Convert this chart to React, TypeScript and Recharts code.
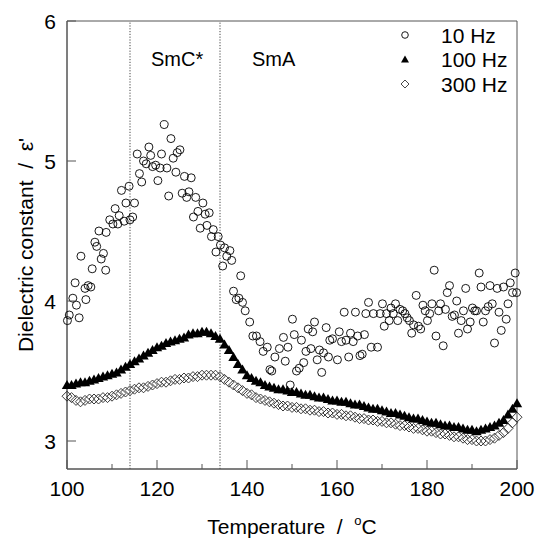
import { ScatterChart, Scatter, XAxis, YAxis, ReferenceLine, ReferenceArea, Legend } from 'recharts';

const FONT = '"Liberation Sans", Arial, sans-serif';

// 10 Hz – scattered readings
const temps10 = [
  100.1, 100.5, 101.3, 101.8, 102.1, 102.7, 103.1, 104.0, 104.2, 104.7, 105.3, 105.6, 106.2, 106.6, 107.1,
  107.6, 108.1, 108.6, 108.7, 109.5, 110.2, 110.7, 111.3, 111.6, 112.1, 112.7, 113.1, 113.8, 114.0, 114.6,
  115.0, 115.6, 116.1, 116.6, 117.0, 117.6, 118.2, 118.6, 119.0, 119.7, 120.2, 120.7, 121.0, 121.6, 122.2,
  122.6, 123.1, 123.6, 124.2, 124.5, 125.1, 125.6, 126.1, 126.6, 127.1, 127.6, 128.1, 128.6, 129.1, 129.6,
  130.2, 130.7, 131.1, 131.6, 132.1, 132.5, 133.1, 133.6, 134.1, 134.6, 135.0, 135.5, 136.2, 136.6, 137.0,
  137.6, 138.2, 138.6, 139.0, 139.6, 140.6, 141.3, 142.1, 142.9, 143.6, 144.5, 145.1, 145.5, 146.2, 147.2,
  148.1, 148.5, 149.1, 149.6, 150.1, 150.5, 151.0, 151.6, 152.1, 152.6, 153.1, 153.6, 154.2, 154.6, 155.0,
  155.6, 156.1, 156.6, 157.0, 157.6, 158.1, 158.4, 159.0, 160.1, 160.5, 161.0, 161.6, 162.0, 162.6, 163.0,
  163.6, 164.1, 164.6, 165.1, 165.6, 166.1, 166.4, 167.0, 167.6, 168.1, 169.0, 169.6, 170.1, 170.5, 171.0,
  171.6, 172.0, 172.5, 173.0, 173.5, 174.0, 174.6, 175.1, 175.6, 176.1, 176.6, 177.0, 177.6, 178.1, 178.6,
  179.1, 179.6, 180.1, 180.6, 181.1, 181.6, 182.0, 182.6, 183.0, 183.6, 184.1, 184.5, 185.0, 185.6, 186.1,
  186.6, 187.0, 187.6, 188.1, 188.6, 189.0, 189.6, 190.1, 190.6, 191.0, 191.6, 192.0, 192.5, 193.0, 193.6,
  194.0, 194.5, 195.0, 195.6, 196.0, 196.5, 197.0, 197.6, 198.0, 198.5, 199.0, 199.6, 199.9,
];
const eps10 = [
  3.86, 3.90, 4.02, 4.13, 3.97, 3.88, 4.32, 4.09, 4.01, 4.11, 4.10, 4.23, 4.42, 4.39, 4.50,
  4.30, 4.34, 4.22, 4.49, 4.58, 4.55, 4.66, 4.55, 4.61, 4.79, 4.57, 4.70, 4.82, 4.58, 4.60,
  4.70, 5.05, 4.91, 4.85, 5.00, 4.98, 5.10, 5.04, 4.96, 4.97, 4.86, 4.95, 5.05, 5.26, 4.95,
  4.75, 5.16, 5.02, 4.92, 5.06, 5.08, 4.77, 4.89, 4.74, 4.78, 4.88, 4.60, 4.74, 4.64, 4.52,
  4.70, 4.62, 4.54, 4.63, 4.46, 4.51, 4.35, 4.46, 4.40, 4.25, 4.38, 4.32, 4.36, 4.29, 4.07,
  4.01, 4.02, 4.18, 3.99, 3.93, 3.85, 3.75, 3.75, 3.71, 3.64, 3.67, 3.51, 3.50, 3.60, 3.66,
  3.74, 3.57, 3.67, 3.40, 3.87, 3.76, 3.50, 3.52, 3.72, 3.56, 3.64, 3.80, 3.66, 3.78, 3.85,
  3.58, 3.65, 3.49, 3.63, 3.81, 3.60, 3.72, 3.73, 3.58, 3.78, 3.71, 3.92, 3.72, 3.60, 3.77,
  3.71, 3.92, 3.75, 3.61, 3.62, 3.76, 3.91, 3.99, 3.67, 3.91, 3.67, 3.91, 3.98, 3.82, 3.91,
  3.86, 3.95, 3.91, 3.98, 3.86, 3.94, 3.93, 3.91, 3.88, 3.86, 3.77, 3.83, 4.04, 3.82, 3.80,
  3.97, 3.93, 3.86, 3.91, 3.98, 4.22, 3.75, 3.93, 3.98, 3.68, 3.94, 4.06, 4.11, 3.89, 3.90,
  4.00, 3.77, 3.86, 3.93, 4.09, 3.80, 3.85, 3.95, 3.93, 3.93, 4.20, 4.10, 3.85, 3.93, 3.96,
  4.11, 3.98, 3.70, 4.09, 3.92, 3.79, 4.10, 3.87, 3.98, 4.13, 4.06, 4.20, 4.06,
];

// 100 Hz and 300 Hz – dense sweeps, one reading per degree
const tempGrid = [
  100, 101, 102, 103, 104, 105, 106, 107, 108, 109, 110, 111, 112, 113, 114, 115, 116, 117, 118, 119,
  120, 121, 122, 123, 124, 125, 126, 127, 128, 129, 130, 131, 132, 133, 134, 135, 136, 137, 138, 139,
  140, 141, 142, 143, 144, 145, 146, 147, 148, 149, 150, 151, 152, 153, 154, 155, 156, 157, 158, 159,
  160, 161, 162, 163, 164, 165, 166, 167, 168, 169, 170, 171, 172, 173, 174, 175, 176, 177, 178, 179,
  180, 181, 182, 183, 184, 185, 186, 187, 188, 189, 190, 191, 192, 193, 194, 195, 196, 197, 198, 199,
  200,
];
const eps100 = [
  3.40, 3.40, 3.41, 3.42, 3.42, 3.43, 3.44, 3.45, 3.46, 3.47, 3.48, 3.49, 3.51, 3.53, 3.55, 3.57, 3.59, 3.61, 3.63, 3.65,
  3.67, 3.68, 3.70, 3.71, 3.72, 3.73, 3.74, 3.76, 3.77, 3.77, 3.78, 3.78, 3.77, 3.75, 3.73, 3.69, 3.65, 3.60, 3.55, 3.51,
  3.47, 3.45, 3.43, 3.42, 3.40, 3.39, 3.38, 3.37, 3.37, 3.36, 3.35, 3.35, 3.34, 3.33, 3.33, 3.32, 3.31, 3.31, 3.30, 3.29,
  3.29, 3.28, 3.28, 3.27, 3.26, 3.26, 3.25, 3.24, 3.23, 3.23, 3.22, 3.21, 3.20, 3.20, 3.19, 3.18, 3.17, 3.16, 3.16, 3.15,
  3.14, 3.13, 3.13, 3.12, 3.11, 3.11, 3.10, 3.10, 3.09, 3.08, 3.08, 3.07, 3.08, 3.09, 3.10, 3.11, 3.13, 3.15, 3.19, 3.23,
  3.27,
];
const eps300 = [
  3.32, 3.31, 3.29, 3.28, 3.29, 3.30, 3.30, 3.30, 3.31, 3.31, 3.32, 3.33, 3.34, 3.35, 3.36, 3.37, 3.38, 3.38, 3.39, 3.40,
  3.41, 3.42, 3.42, 3.43, 3.44, 3.44, 3.45, 3.45, 3.46, 3.46, 3.47, 3.47, 3.47, 3.47, 3.46, 3.44, 3.42, 3.40, 3.38, 3.36,
  3.34, 3.33, 3.31, 3.30, 3.29, 3.28, 3.27, 3.26, 3.25, 3.25, 3.24, 3.24, 3.23, 3.23, 3.22, 3.22, 3.21, 3.21, 3.20, 3.20,
  3.19, 3.19, 3.18, 3.18, 3.17, 3.16, 3.16, 3.15, 3.15, 3.14, 3.14, 3.13, 3.13, 3.12, 3.11, 3.11, 3.10, 3.09, 3.09, 3.08,
  3.07, 3.07, 3.06, 3.05, 3.05, 3.04, 3.03, 3.03, 3.02, 3.01, 3.01, 3.00, 3.00, 3.00, 3.01, 3.02, 3.04, 3.06, 3.09, 3.13,
  3.17,
];

const xTicks = [100, 110, 120, 130, 140, 150, 160, 170, 180, 190, 200];
const xLabels = [100, 120, 140, 160, 180, 200];
const yTicks = [3, 4, 5, 6];
const phaseBounds = [114, 134];
const phaseNames = ['SmC*', 'SmA'];
const seriesNames = ['10 Hz', '100 Hz', '300 Hz'];

const data10 = temps10.map((t, i) => ({ t, e: eps10[i] }));
const data100 = tempGrid.map((t, i) => ({ t, e: eps100[i] }));
const data300 = tempGrid.map((t, i) => ({ t, e: eps300[i] }));

const AXIS = '#555';

const circleShape = (p: any) => (
  <circle cx={p.cx} cy={p.cy} r={4} fill="none" stroke="#000" strokeWidth={0.9} />
);
const triangleShape = (p: any) => (
  <polygon
    points={`${p.cx},${p.cy - 5} ${p.cx - 5.2},${p.cy + 4} ${p.cx + 5.2},${p.cy + 4}`}
    fill="#000"
  />
);
const diamondShape = (p: any) => (
  <polygon
    points={`${p.cx},${p.cy - 5} ${p.cx + 5},${p.cy} ${p.cx},${p.cy + 5} ${p.cx - 5},${p.cy}`}
    fill="none"
    stroke="#222"
    strokeWidth={0.9}
  />
);

function XTick({ x, y, payload }: any) {
  const major = xLabels.includes(payload.value);
  return (
    <g>
      <line x1={x} x2={x} y1={y} y2={y - (major ? 9 : 5)} stroke={AXIS} />
      {major && (
        <text x={x} y={y + 27} textAnchor="middle" fontSize={21} fontFamily={FONT} fill="#000">
          {payload.value}
        </text>
      )}
    </g>
  );
}

function YTick({ x, y, payload }: any) {
  return (
    <g>
      <line x1={x} x2={x + 9} y1={y} y2={y} stroke={AXIS} />
      <text x={x - 11} y={y + 7.5} textAnchor="end" fontSize={21} fontFamily={FONT} fill="#000">
        {payload.value}
      </text>
    </g>
  );
}

const XTitle = () => (
  <text x={292} y={534} textAnchor="middle" fontSize={21} fontFamily={FONT} fill="#000">
    Temperature{'\u00a0\u00a0/\u00a0\u00a0'}
    <tspan fontSize={13} dy={-9}>o</tspan>
    <tspan dy={9}>C</tspan>
  </text>
);

const YTitle = () => (
  <text
    x={33}
    y={245}
    transform="rotate(-90 33 245)"
    textAnchor="middle"
    fontSize={21}
    fontFamily={FONT}
    fill="#000"
  >
    {'Dielectric constant\u00a0\u00a0/\u00a0\u00a0\u03b5\''}
  </text>
);

function LegendBox({ payload }: any) {
  const rows = (payload || []).map((p: any) => p.value);
  const names = rows.length ? rows : seriesNames;
  return (
    <svg width={130} height={80}>
      {names.map((name: string, i: number) => {
        const cy = 17 + i * 24.5;
        const cx = 10;
        let mark;
        if (i === 0) mark = <circle cx={cx} cy={cy} r={3.3} fill="none" stroke="#000" strokeWidth={0.9} />;
        else if (i === 1)
          mark = <polygon points={`${cx},${cy - 4} ${cx - 4},${cy + 3} ${cx + 4},${cy + 3}`} fill="#000" />;
        else
          mark = (
            <polygon
              points={`${cx},${cy - 4} ${cx + 4},${cy} ${cx},${cy + 4} ${cx - 4},${cy}`}
              fill="none"
              stroke="#333"
              strokeWidth={0.9}
            />
          );
        return (
          <g key={name}>
            {mark}
            <text x={46} y={cy + 7.5} fontSize={21} fontFamily={FONT} fill="#000">
              {name}
            </text>
          </g>
        );
      })}
    </svg>
  );
}

export default function App() {
  return (
    <div style={{ position: 'absolute', left: 0, top: 0, width: 538, height: 541, background: '#fff' }}>
      <ScatterChart width={538} height={541} margin={{ top: 21, right: 21, bottom: 32, left: 27 }}>
        <XAxis
          type="number"
          dataKey="t"
          domain={[100, 200]}
          ticks={xTicks}
          interval={0}
          height={40}
          tickSize={0}
          tickMargin={0}
          tickLine={false}
          axisLine={{ stroke: AXIS }}
          tick={<XTick />}
          label={<XTitle />}
        />
        <YAxis
          type="number"
          dataKey="e"
          domain={[2.8, 6]}
          ticks={yTicks}
          interval={0}
          width={40}
          tickSize={0}
          tickMargin={0}
          tickLine={false}
          axisLine={{ stroke: AXIS }}
          tick={<YTick />}
          label={<YTitle />}
        />
        <ReferenceArea x1={100} x2={200} y1={2.8} y2={6} fill="none" stroke={AXIS} strokeWidth={1} />
        <ReferenceLine
          x={phaseBounds[0]}
          stroke="#444"
          strokeDasharray="1.2 1.6"
          label={(p: any) => (
            <text x={p.viewBox.x + 21} y={66} fontSize={20} fontFamily={FONT} fill="#000">
              {phaseNames[0]}
            </text>
          )}
        />
        <ReferenceLine
          x={phaseBounds[1]}
          stroke="#444"
          strokeDasharray="1.2 1.6"
          label={(p: any) => (
            <text x={p.viewBox.x + 32} y={66} fontSize={20} fontFamily={FONT} fill="#000">
              {phaseNames[1]}
            </text>
          )}
        />
        <Scatter name={seriesNames[0]} data={data10} shape={circleShape} isAnimationActive={false} />
        <Scatter name={seriesNames[1]} data={data100} shape={triangleShape} isAnimationActive={false} />
        <Scatter name={seriesNames[2]} data={data300} shape={diamondShape} isAnimationActive={false} />
        <Legend
          layout="vertical"
          align="center"
          verticalAlign="middle"
          content={<LegendBox />}
          wrapperStyle={{ left: 395, top: 18, width: 130, height: 80 }}
        />
      </ScatterChart>
    </div>
  );
}
